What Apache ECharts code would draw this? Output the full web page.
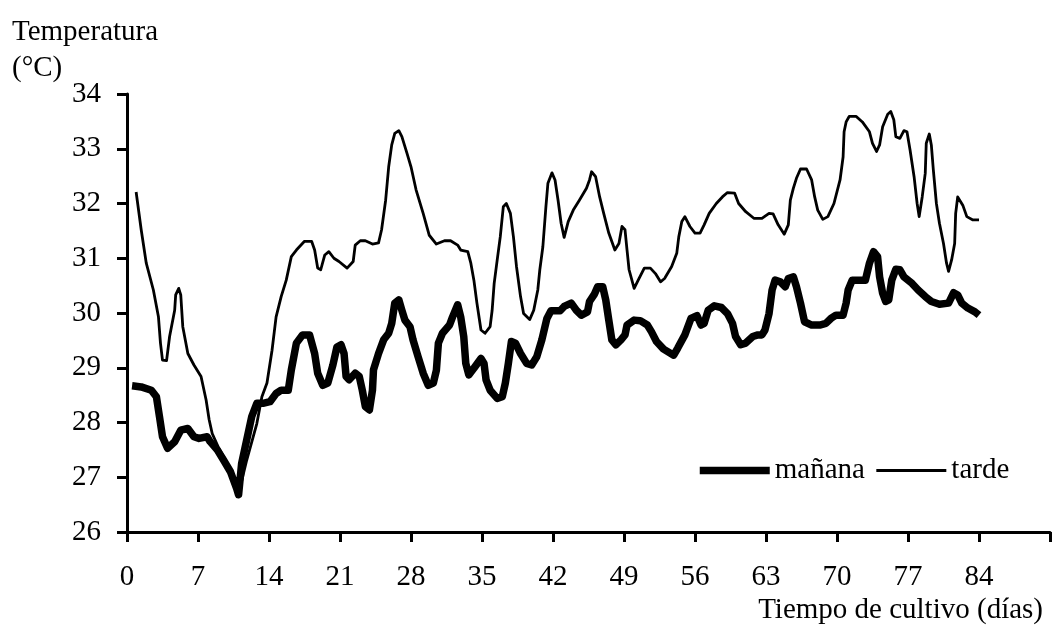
<!DOCTYPE html>
<html>
<head>
<meta charset="utf-8">
<script src="https://cdn.jsdelivr.net/npm/echarts@6/dist/echarts.min.js"></script>
<style>html,body{margin:0;padding:0;background:#fff;}#chart{width:1053px;height:629px;}</style>
</head>
<body>
<div id="chart"></div>
<script>
const xTicks = [0, 7, 14, 21, 28, 35, 42, 49, 56, 63, 70, 77, 84];
const yTicks = [26, 27, 28, 29, 30, 31, 32, 33, 34];

const mananaDays = [0.5,1.4,2.4,2.9,3.2,3.5,4.0,4.7,5.3,6.0,6.6,7.1,7.9,8.2,8.9,9.5,10.2,10.8,11.0,11.3,11.8,12.3,12.8,13.4,14.1,14.7,15.2,15.9,16.2,16.7,17.3,18.0,18.5,18.8,19.3,19.8,20.3,20.7,21.1,21.4,21.6,21.9,22.5,22.9,23.2,23.5,23.9,24.2,24.3,24.8,25.3,25.8,26.1,26.4,26.8,27.1,27.4,27.9,28.2,28.7,29.2,29.7,30.2,30.5,30.7,31.1,31.8,32.1,32.6,32.9,33.2,33.4,33.7,34.2,34.9,35.2,35.4,35.8,36.5,37.0,37.3,37.6,37.9,38.3,38.8,39.4,39.9,40.4,40.9,41.4,41.8,42.7,43.1,43.8,44.3,44.8,45.4,45.6,46.1,46.4,46.9,47.2,47.5,47.8,48.2,48.7,49.1,49.3,50.0,50.6,51.3,51.7,52.2,52.9,53.9,54.3,55.0,55.6,56.2,56.6,56.9,57.3,57.9,58.6,59.2,59.7,60.0,60.5,61.0,61.7,62.2,62.6,62.9,63.3,63.6,63.9,64.4,64.9,65.2,65.7,66.0,66.4,66.8,67.5,68.3,68.9,69.4,69.9,70.6,70.9,71.1,71.5,72.3,72.8,73.2,73.6,74.0,74.2,74.5,74.8,75.1,75.4,75.8,76.2,76.6,77.4,78.0,78.7,79.3,80.1,81.0,81.5,81.9,82.3,82.9,83.6,84.0];
const mananaTemp = [28.67,28.65,28.59,28.47,28.11,27.74,27.53,27.65,27.86,27.89,27.74,27.71,27.74,27.65,27.50,27.32,27.10,26.80,26.68,27.25,27.68,28.11,28.35,28.35,28.38,28.53,28.59,28.59,28.96,29.45,29.60,29.60,29.26,28.90,28.68,28.72,29.05,29.38,29.42,29.26,28.84,28.78,28.90,28.84,28.59,28.29,28.23,28.59,28.96,29.26,29.51,29.63,29.81,30.18,30.24,30.05,29.87,29.75,29.51,29.20,28.90,28.68,28.72,28.95,29.45,29.63,29.78,29.93,30.15,29.93,29.57,29.08,28.87,28.99,29.17,29.08,28.78,28.59,28.44,28.47,28.72,29.08,29.48,29.45,29.26,29.08,29.05,29.20,29.51,29.90,30.04,30.04,30.12,30.18,30.05,29.96,30.02,30.21,30.35,30.48,30.48,30.24,29.87,29.51,29.42,29.51,29.60,29.78,29.87,29.86,29.78,29.66,29.48,29.34,29.23,29.36,29.60,29.90,29.95,29.78,29.81,30.05,30.13,30.10,29.99,29.81,29.57,29.42,29.45,29.57,29.60,29.60,29.69,29.99,30.42,30.60,30.57,30.48,30.63,30.66,30.48,30.18,29.84,29.78,29.78,29.81,29.90,29.96,29.96,30.18,30.42,30.60,30.60,30.60,30.91,31.12,31.03,30.66,30.36,30.21,30.24,30.60,30.80,30.79,30.66,30.54,30.42,30.30,30.21,30.16,30.18,30.37,30.33,30.18,30.09,30.02,29.96];

const tardeDays = [0.9,1.4,1.9,2.6,3.1,3.3,3.5,3.9,4.2,4.7,4.8,5.1,5.3,5.5,6.0,6.6,7.3,7.8,8.1,8.4,9.0,9.6,10.2,10.8,11.0,11.8,12.8,13.3,13.8,14.3,14.7,15.2,15.7,16.2,16.7,17.5,18.2,18.5,18.8,19.1,19.5,19.9,20.4,20.9,21.7,22.3,22.5,23.0,23.5,24.2,24.8,25.1,25.5,25.8,26.1,26.4,26.8,27.1,27.6,28.0,28.5,29.2,29.8,30.5,31.3,31.9,32.6,32.9,33.6,33.9,34.2,34.5,34.9,35.3,35.8,36.0,36.2,36.5,36.8,37.1,37.4,37.8,38.1,38.4,38.8,39.1,39.7,40.1,40.5,40.7,41.0,41.3,41.5,41.9,42.2,42.5,42.8,43.1,43.5,44.0,44.6,45.3,45.6,45.8,46.2,46.6,47.0,47.5,48.1,48.5,48.8,49.1,49.3,49.5,50.0,50.4,51.0,51.6,52.1,52.6,53.0,53.7,54.2,54.4,54.7,55.0,55.5,56.0,56.5,56.9,57.4,58.1,58.7,59.2,59.9,60.3,61.0,61.8,62.6,63.3,63.7,64.2,64.8,65.2,65.4,65.7,66.0,66.4,67.0,67.5,67.8,68.1,68.6,69.1,69.7,70.3,70.6,70.7,70.9,71.2,71.9,72.5,73.2,73.5,73.9,74.2,74.5,75.0,75.3,75.6,75.8,76.2,76.6,76.9,77.2,77.6,77.9,78.1,78.4,78.7,78.8,79.1,79.3,79.5,79.8,80.1,80.5,80.8,81.0,81.3,81.6,81.7,81.9,82.4,82.8,83.4,84.0];
const tardeTemp = [32.21,31.52,30.91,30.42,29.93,29.45,29.14,29.13,29.57,30.05,30.33,30.45,30.33,29.75,29.26,29.05,28.84,28.41,28.05,27.80,27.55,27.35,27.10,26.83,26.70,27.31,27.98,28.47,28.72,29.32,29.93,30.30,30.60,31.03,31.15,31.31,31.31,31.15,30.82,30.79,31.06,31.12,31.00,30.94,30.82,30.94,31.24,31.32,31.32,31.26,31.28,31.52,32.06,32.67,33.07,33.28,33.33,33.22,32.92,32.67,32.25,31.82,31.42,31.26,31.32,31.32,31.24,31.15,31.12,30.91,30.60,30.18,29.69,29.63,29.75,30.05,30.54,30.97,31.39,31.94,32.00,31.82,31.39,30.85,30.30,29.99,29.88,30.05,30.42,30.79,31.21,31.94,32.37,32.56,32.43,32.06,31.64,31.38,31.67,31.88,32.06,32.28,32.43,32.58,32.49,32.12,31.82,31.46,31.15,31.27,31.58,31.52,31.15,30.79,30.45,30.60,30.82,30.82,30.72,30.57,30.63,30.85,31.09,31.39,31.67,31.76,31.58,31.46,31.46,31.61,31.82,32.00,32.12,32.20,32.19,32.00,31.85,31.73,31.73,31.82,31.81,31.61,31.44,31.61,32.06,32.28,32.46,32.63,32.63,32.43,32.12,31.88,31.71,31.76,32.00,32.43,32.85,33.31,33.49,33.59,33.59,33.49,33.31,33.10,32.95,33.07,33.40,33.63,33.68,33.53,33.22,33.19,33.33,33.31,32.98,32.49,32.00,31.76,32.12,32.55,33.10,33.27,33.07,32.61,32.00,31.64,31.27,30.91,30.76,30.97,31.27,31.82,32.12,31.97,31.76,31.70,31.70];

const seriesNames = ['mañana', 'tarde'];
const yTitle = 'Temperatura\n(°C)';
const xTitle = 'Tiempo de cultivo (días)';

const FONT = '"Liberation Serif", "Times New Roman", serif';
const pairs = (xs, ys) => xs.map((x, i) => [x, ys[i]]);

const chart = echarts.init(document.getElementById('chart'), null, { renderer: 'canvas' });
chart.setOption({
  animation: false,
  backgroundColor: '#ffffff',
  textStyle: { fontFamily: FONT, color: '#000' },
  title: [
    { text: yTitle, left: 12, top: 14, padding: 0,
      textStyle: { fontFamily: FONT, fontSize: 29, fontWeight: 'normal', color: '#000', lineHeight: 36 } },
    { text: xTitle, right: 10, top: 596, padding: 0,
      textStyle: { fontFamily: FONT, fontSize: 29, fontWeight: 'normal', color: '#000' } }
  ],
  legend: {
    left: 696, top: 456, padding: 0,
    itemWidth: 70, itemHeight: 14, itemGap: 10,
    lineStyle: { width: 'inherit' },
    itemStyle: { opacity: 0, borderWidth: 0 },
    textStyle: { fontFamily: FONT, fontSize: 29, color: '#000' },
    data: seriesNames
  },
  grid: { left: 127, top: 94, bottom: 97, right: -8, containLabel: false },
  xAxis: {
    type: 'value', min: 0, max: 91, interval: 7,
    axisLine: { show: true, onZero: false, lineStyle: { color: '#000', width: 3 } },
    axisTick: { show: true, length: 10, lineStyle: { color: '#000', width: 3 } },
    axisLabel: { color: '#000', fontFamily: FONT, fontSize: 29, margin: 31,
      formatter: v => (xTicks.indexOf(v) >= 0 ? String(v) : '') },
    splitLine: { show: false }
  },
  yAxis: {
    type: 'value', min: 26, max: 34, interval: 1,
    axisLine: { show: true, lineStyle: { color: '#000', width: 3 } },
    axisTick: { show: true, length: 10, lineStyle: { color: '#000', width: 3 } },
    axisLabel: { color: '#000', fontFamily: FONT, fontSize: 29, margin: 26,
      formatter: v => (yTicks.indexOf(v) >= 0 ? String(v) : '') },
    splitLine: { show: false }
  },
  series: [
    { name: seriesNames[0], type: 'line', data: pairs(mananaDays, mananaTemp),
      symbol: 'none', smooth: false,
      lineStyle: { color: '#000', width: 7.5, join: 'round' }, itemStyle: { color: '#000' } },
    { name: seriesNames[1], type: 'line', data: pairs(tardeDays, tardeTemp),
      symbol: 'none', smooth: false,
      lineStyle: { color: '#000', width: 2.8, join: 'round' }, itemStyle: { color: '#000' } }
  ]
});
</script>
</body>
</html>
